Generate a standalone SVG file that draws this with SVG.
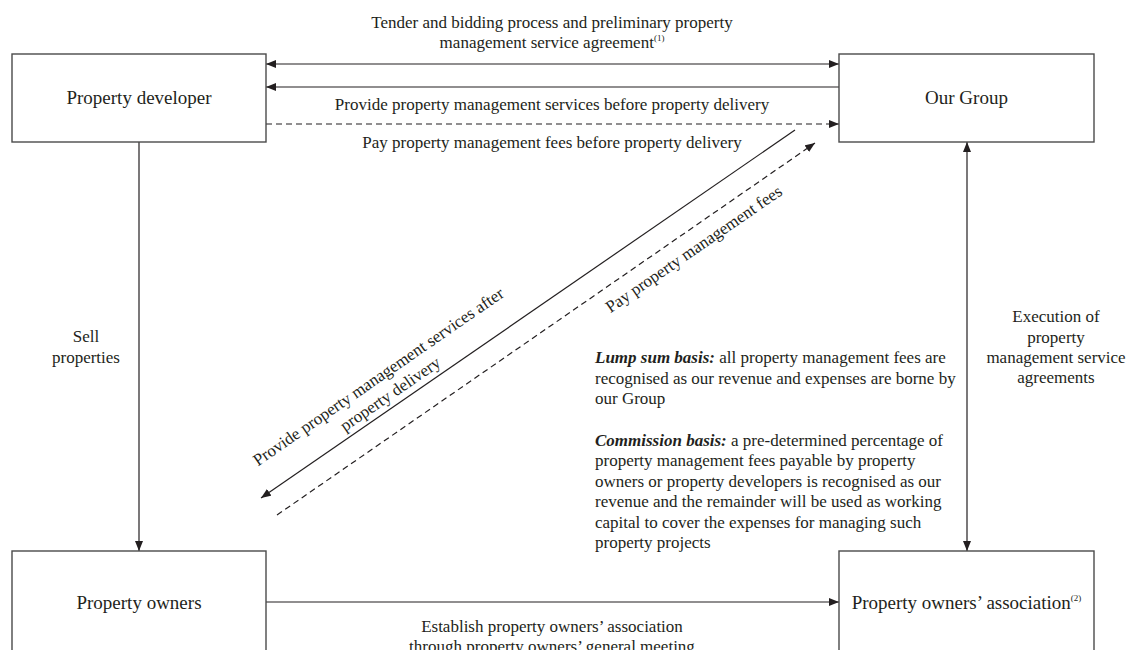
<svg xmlns="http://www.w3.org/2000/svg" width="1128" height="650" viewBox="0 0 1128 650">
<defs>
<style>
text{font-family:"Liberation Serif","Times New Roman",serif;fill:#231f20;}
.lbl{font-size:17px;}
.node{font-size:19px;text-anchor:middle;}
.mid{text-anchor:middle;}
.box{fill:#fff;stroke:#4a4a4a;stroke-width:1.4;}
.ln{fill:none;stroke:#231f20;stroke-width:1.2;}
.dash{stroke-dasharray:6 4;}
.bi{font-weight:bold;font-style:italic;}
.sup{font-size:9px;}
</style>
<marker id="ah" viewBox="0 0 10 8" refX="10" refY="4" markerWidth="10" markerHeight="8" markerUnits="userSpaceOnUse" orient="auto-start-reverse">
<path d="M0,0 L10,4 L0,8 z" fill="#231f20"/>
</marker>
</defs>
<rect width="1128" height="650" fill="#fff"/>

<g id="connectors">
<line class="ln" x1="266" y1="64" x2="839" y2="64" marker-start="url(#ah)" marker-end="url(#ah)"/>
<line class="ln" x1="839" y1="87" x2="266" y2="87" marker-end="url(#ah)"/>
<line class="ln dash" x1="266" y1="124" x2="839" y2="124" marker-end="url(#ah)"/>
<line class="ln" x1="139" y1="142" x2="139" y2="551" marker-end="url(#ah)"/>
<line class="ln" x1="967" y1="142" x2="967" y2="551" marker-start="url(#ah)" marker-end="url(#ah)"/>
<line class="ln" x1="795" y1="130" x2="261" y2="498" marker-end="url(#ah)"/>
<line class="ln dash" x1="277" y1="515" x2="815" y2="143" marker-end="url(#ah)"/>
<line class="ln" x1="266" y1="602" x2="839" y2="602" marker-end="url(#ah)"/>
</g>

<g id="edge-labels">
<text class="lbl mid" x="552" y="28">Tender and bidding process and preliminary property</text>
<text class="lbl mid" x="552" y="48">management service agreement<tspan class="sup" dy="-7">(1)</tspan></text>
<text class="lbl mid" x="552" y="110">Provide property management services before property delivery</text>
<text class="lbl mid" x="552" y="148">Pay property management fees before property delivery</text>
<text class="lbl mid" x="86" y="342">Sell</text>
<text class="lbl mid" x="86" y="363">properties</text>
<text class="lbl mid" x="1056" y="322">Execution of</text>
<text class="lbl mid" x="1056" y="343">property</text>
<text class="lbl mid" x="1056" y="363">management service</text>
<text class="lbl mid" x="1056" y="383">agreements</text>
<g transform="translate(795,130) rotate(-34.6)">
<text class="lbl mid" x="-483" y="-28">Provide property management services after</text>
<text class="lbl mid" x="-483" y="-7">property delivery</text>
</g>
<g transform="translate(815,143) rotate(-34.6)">
<text class="lbl mid" x="-160" y="24">Pay property management fees</text>
</g>
<text class="lbl mid" x="552" y="632">Establish property owners’ association</text>
<text class="lbl mid" x="552" y="652">through property owners’ general meeting</text>
</g>

<g id="note">
<text class="lbl" x="595" y="363"><tspan class="bi">Lump sum basis:</tspan> all property management fees are</text>
<text class="lbl" x="595" y="384">recognised as our revenue and expenses are borne by</text>
<text class="lbl" x="595" y="404">our Group</text>
<text class="lbl" x="595" y="446"><tspan class="bi">Commission basis:</tspan> a pre-determined percentage of</text>
<text class="lbl" x="595" y="466">property management fees payable by property</text>
<text class="lbl" x="595" y="487">owners or property developers is recognised as our</text>
<text class="lbl" x="595" y="507">revenue and the remainder will be used as working</text>
<text class="lbl" x="595" y="528">capital to cover the expenses for managing such</text>
<text class="lbl" x="595" y="548">property projects</text>
</g>

<g id="property-developer">
<rect class="box" x="12" y="54" width="254" height="88"/>
<text class="node" x="139" y="104">Property developer</text>
</g>
<g id="our-group">
<rect class="box" x="839" y="54" width="255" height="88"/>
<text class="node" x="966.5" y="104">Our Group</text>
</g>
<g id="property-owners">
<rect class="box" x="12" y="551" width="254" height="110"/>
<text class="node" x="139" y="609">Property owners</text>
</g>
<g id="property-owners-association">
<rect class="box" x="839" y="551" width="255" height="110"/>
<text class="node" x="966.5" y="609">Property owners’ association<tspan class="sup" dy="-8">(2)</tspan></text>
</g>
</svg>
